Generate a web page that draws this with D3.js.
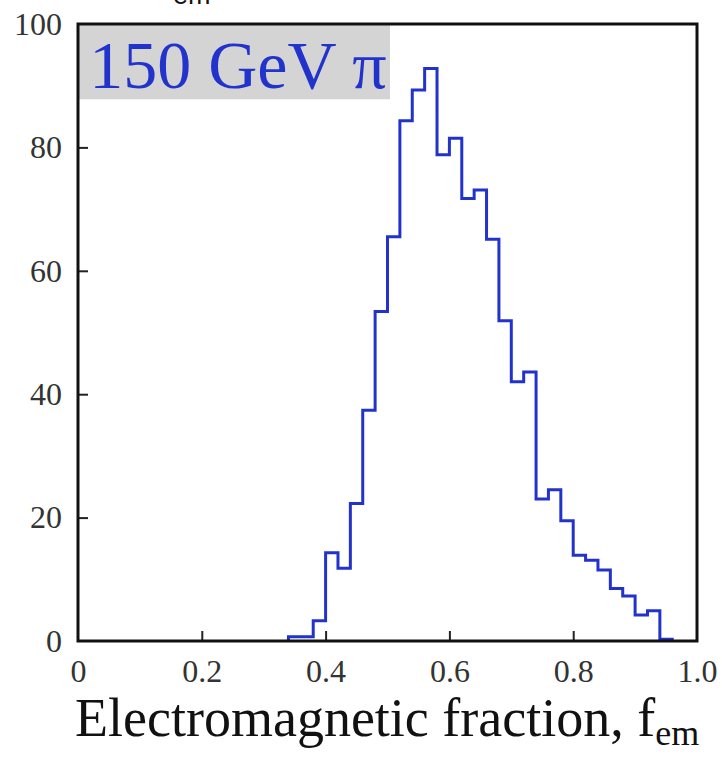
<!DOCTYPE html>
<html>
<head>
<meta charset="utf-8">
<script src="https://cdn.jsdelivr.net/npm/d3@7"></script>
<style>
  html, body { margin: 0; padding: 0; background: #fff; }
  svg { display: block; }
</style>
</head>
<body>
<svg id="chart" width="722" height="760"></svg>
<script>
// Electromagnetic fraction distribution for 150 GeV pions
const binWidth = 0.02;
const binStarts = [0.34, 0.36, 0.38, 0.40, 0.42, 0.44, 0.46, 0.48, 0.50, 0.52,
                   0.54, 0.56, 0.58, 0.60, 0.62, 0.64, 0.66, 0.68, 0.70, 0.72,
                   0.74, 0.76, 0.78, 0.80, 0.82, 0.84, 0.86, 0.88, 0.90, 0.92, 0.94];
const counts = [0.7, 0.7, 3.3, 14.3, 11.8, 22.3, 37.4, 53.4, 65.5, 84.3,
                89.3, 92.8, 78.8, 81.5, 71.7, 73.1, 65.1, 51.9, 42.0, 43.6,
                23.0, 24.5, 19.5, 13.9, 13.1, 11.5, 8.5, 7.3, 4.2, 4.9, 0.3];
const xTicks = [0, 0.2, 0.4, 0.6, 0.8, 1.0];
const xTickLabels = ["0", "0.2", "0.4", "0.6", "0.8", "1.0"];
const yTicks = [0, 20, 40, 60, 80, 100];
const yTickLabels = ["0", "20", "40", "60", "80", "100"];
const beamLabel = "150 GeV \u03c0";

const svg = d3.select("#chart");
const plotLeft = 78, plotRight = 697, plotTop = 24, plotBottom = 641;

const x = d3.scaleLinear().domain([0, 1]).range([plotLeft, plotRight]);
const y = d3.scaleLinear().domain([0, 100]).range([plotBottom, plotTop]);

const serif = "'Liberation Serif', 'Times New Roman', serif";
const blue = "#2233cc";

// clipped subscript from the caption above the panel
svg.append("text")
  .attr("x", 173).attr("y", 4)
  .attr("font-family", "'Liberation Sans', Arial, sans-serif")
  .attr("font-size", 27)
  .attr("fill", "#111")
  .text("em");

// label box in the top-left corner
const labelBox = svg.append("g");
labelBox.append("rect")
  .attr("x", x(0)).attr("y", y(100))
  .attr("width", x(0.504) - x(0)).attr("height", y(87.8) - y(100))
  .attr("fill", "#d4d4d4");
labelBox.append("text")
  .attr("x", x(0.018)).attr("y", y(89.6))
  .attr("font-family", serif)
  .attr("font-size", 68)
  .attr("fill", blue)
  .text(beamLabel);

// histogram outline
const pts = [[binStarts[0], 0]];
binStarts.forEach((b, i) => {
  pts.push([b, counts[i]]);
  pts.push([b + binWidth, counts[i]]);
});
pts.push([binStarts[binStarts.length - 1] + binWidth, 0]);

svg.append("path")
  .datum(pts)
  .attr("d", d3.line().x(d => x(d[0])).y(d => y(d[1])))
  .attr("fill", "none")
  .attr("stroke", blue)
  .attr("stroke-width", 3)
  .attr("stroke-linejoin", "miter");

// x axis: inward ticks, labels below
const xAxis = svg.append("g")
  .attr("transform", `translate(0,${plotBottom})`)
  .call(d3.axisBottom(x).tickValues(xTicks)
    .tickSize(-10).tickPadding(18)
    .tickFormat((d, i) => xTickLabels[i]));
xAxis.select(".domain").remove();
xAxis.selectAll(".tick line").attr("stroke", "#222").attr("stroke-width", 2)
  .filter(d => d === 0 || d === 1).remove();
xAxis.selectAll(".tick text")
  .attr("font-family", serif).attr("font-size", 32).attr("fill", "#333");

// y axis: inward ticks, labels on the left
const yAxis = svg.append("g")
  .attr("transform", `translate(${plotLeft},0)`)
  .call(d3.axisLeft(y).tickValues(yTicks)
    .tickSize(-10).tickPadding(16)
    .tickFormat((d, i) => yTickLabels[i]));
yAxis.select(".domain").remove();
yAxis.selectAll(".tick line").attr("stroke", "#222").attr("stroke-width", 2)
  .filter(d => d === 0 || d === 100).remove();
yAxis.selectAll(".tick text")
  .attr("font-family", serif).attr("font-size", 32).attr("fill", "#333");

// frame
svg.append("rect")
  .attr("x", plotLeft).attr("y", plotTop)
  .attr("width", plotRight - plotLeft).attr("height", plotBottom - plotTop)
  .attr("fill", "none")
  .attr("stroke", "#111")
  .attr("stroke-width", 3);

// x axis title with subscript
const title = svg.append("text")
  .attr("x", 75).attr("y", 736)
  .attr("font-family", serif)
  .attr("font-size", 54)
  .attr("fill", "#111");
title.append("tspan").text("Electromagnetic fraction, f");
title.append("tspan").attr("font-size", 36).attr("dy", 9).text("em");
</script>
</body>
</html>
